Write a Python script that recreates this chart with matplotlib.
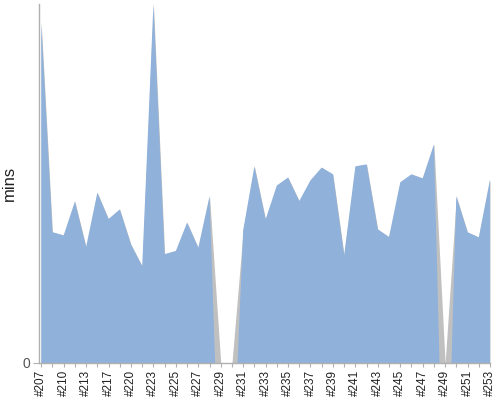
import matplotlib
matplotlib.use("Agg")
import matplotlib.pyplot as plt
import numpy as np

plt.rcParams['font.family'] = ['Liberation Sans', 'DejaVu Sans']

builds = ["#207", "#208", "#210", "#211", "#213", "#215", "#217", "#218",
          "#220", "#222", "#223", "#224", "#225", "#226", "#227", "#228",
          "#229", "#230", "#231", "#232", "#233", "#234", "#235", "#236",
          "#237", "#238", "#239", "#240", "#241", "#242", "#243", "#244",
          "#245", "#246", "#247", "#248", "#249", "#250", "#251", "#252",
          "#253"]
mins = [85.3, 32.8, 32.0, 40.5, 29.1, 42.7, 36.1, 38.5, 29.7, 24.3,
        90.0, 27.3, 28.1, 35.2, 28.9, 41.8, 0.0, 0.0, 33.3, 49.3,
        36.0, 44.5, 46.5, 40.6, 45.8, 49.0, 47.3, 27.0, 49.3, 49.8,
        33.5, 31.6, 45.3, 47.3, 46.3, 54.8, 0.0, 41.8, 32.8, 31.5,
        46.0]

y = np.array(mins)
x = np.arange(len(y))

# blue layer dips below zero at the empty builds, grey one stops at zero
blue = y.copy()
for i in np.where(y == 0)[0]:
    nb = [y[j] for j in (i - 1, i + 1) if 0 <= j < len(y) and y[j] > 0]
    blue[i] = -max(nb) if nb else 0

fig = plt.figure(figsize=(5, 4), dpi=100)
ax = fig.add_axes([0.078, 0.0925, 0.902, 0.8975])

ax.fill_between(x, 0, y, color="#c0c0c0", lw=0)
ax.fill_between(x, 0, blue, color="#8fb1da", lw=0)

ax.set_xlim(-0.2, len(y) - 1)
ax.set_ylim(0, 90)

ax.set_xticks(x)
ax.set_xticklabels([b if i % 2 == 0 else "" for i, b in enumerate(builds)],
                   rotation=90, fontsize=8.5, color="#222222")
ax.set_yticks([0])
ax.set_yticklabels(["0"], fontsize=10, color="#555555")
ax.tick_params(axis="x", length=3, color="#b0b0b0", pad=2)
ax.tick_params(axis="y", length=4, color="#b0b0b0", pad=2)

for s in ["top", "right"]:
    ax.spines[s].set_visible(False)
for s in ["left", "bottom"]:
    ax.spines[s].set_color("#b0b0b0")
    ax.spines[s].set_linewidth(1)

ax.set_ylabel("mins", fontsize=12, color="#222222")
ax.yaxis.set_label_coords(-0.05, 0.5)

fig.savefig("out.png", dpi=100)
